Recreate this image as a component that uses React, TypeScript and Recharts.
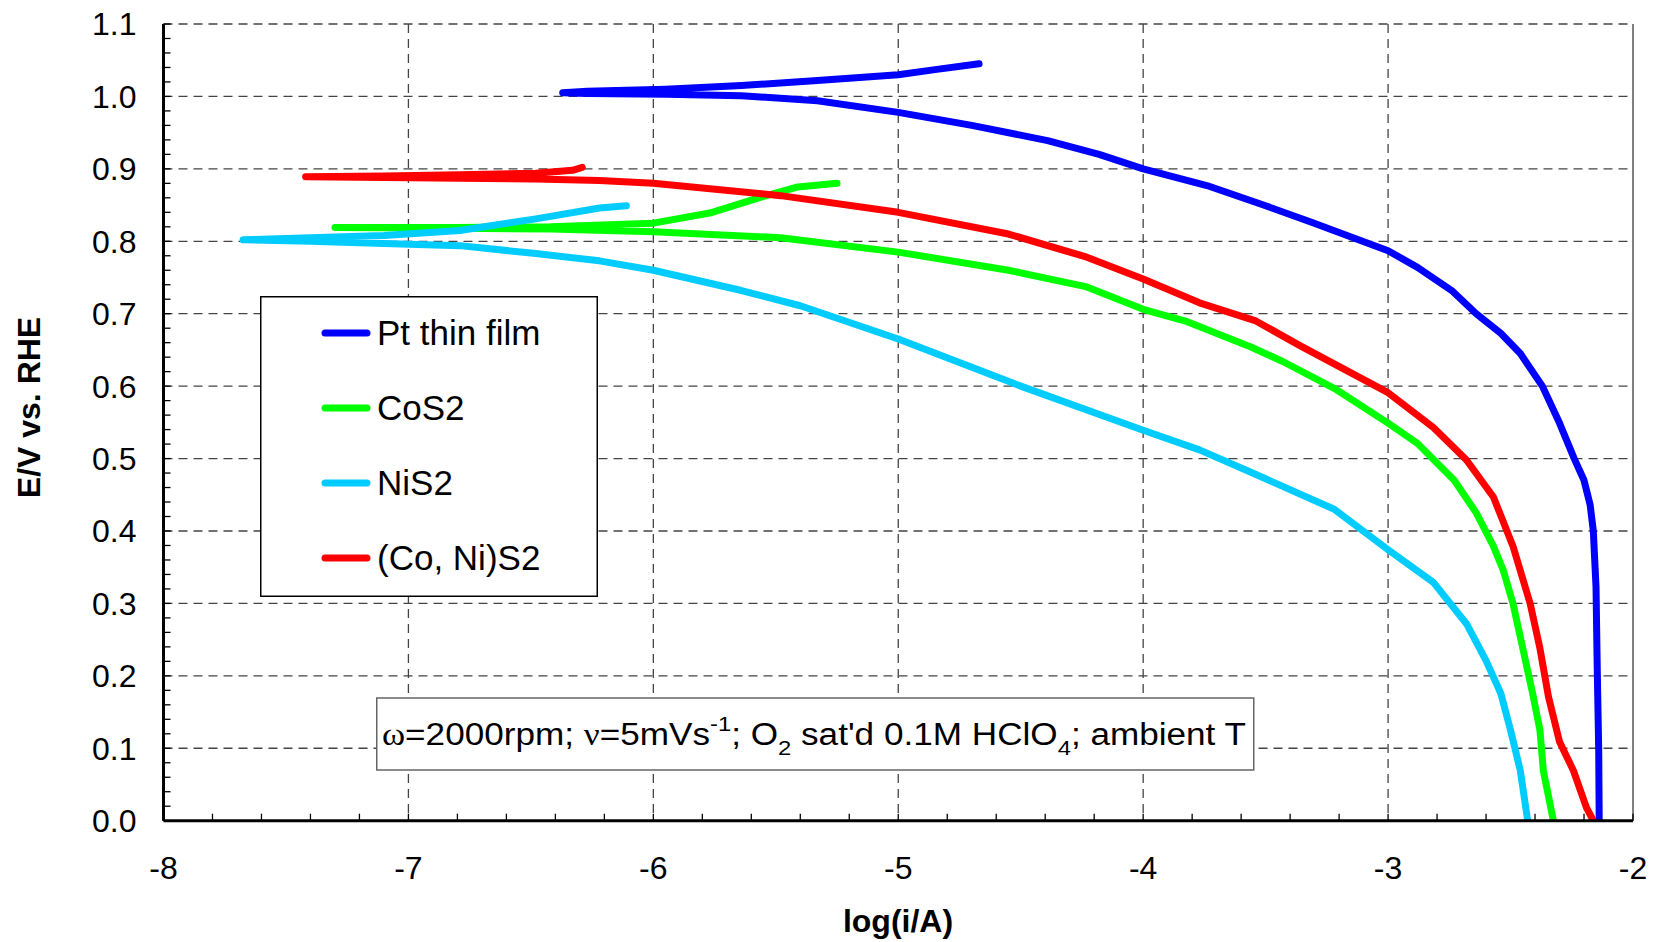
import React from 'react';
import { LineChart, Line, XAxis, YAxis, CartesianGrid, ReferenceLine } from 'recharts';

// ---- axis ticks ----
const X_MAJOR = [-8, -7, -6, -5, -4, -3, -2];
const X_MINOR = [-8, -7.8, -7.6, -7.4, -7.2, -7, -6.8, -6.6, -6.4, -6.2, -6, -5.8, -5.6, -5.4, -5.2, -5, -4.8, -4.6, -4.4, -4.2, -4, -3.8, -3.6, -3.4, -3.2, -3, -2.8, -2.6, -2.4, -2.2, -2];
const Y_MAJOR = [0, 0.1, 0.2, 0.3, 0.4, 0.5, 0.6, 0.7, 0.8, 0.9, 1.0, 1.1];
const Y_MINOR = Array.from({ length: 56 }, (_, i) => Math.round(i * 2) / 100);
const X_GRID = [-7, -6, -5, -4, -3];
const Y_GRID = [0.1, 0.2, 0.3, 0.4, 0.5, 0.6, 0.7, 0.8, 0.9, 1.0, 1.1];

// ---- series: log(i/A) and E/V vs RHE, in scan order ----
const ptLogI = [-4.67, -4.85, -5.0, -5.33, -5.64, -5.95, -6.27, -6.37, -6.27, -5.95, -5.64, -5.33, -5.0, -4.70, -4.39, -4.18, -4.0, -3.74, -3.50, -3.31, -3.0, -2.88, -2.74, -2.64, -2.54, -2.46, -2.37, -2.30, -2.24, -2.20, -2.175, -2.162, -2.151, -2.146, -2.140, -2.138];
const ptE = [1.045, 1.037, 1.030, 1.022, 1.015, 1.010, 1.007, 1.005, 1.004, 1.003, 1.001, 0.994, 0.978, 0.960, 0.939, 0.920, 0.900, 0.877, 0.849, 0.826, 0.787, 0.764, 0.732, 0.700, 0.673, 0.645, 0.600, 0.549, 0.500, 0.470, 0.436, 0.400, 0.323, 0.210, 0.097, 0.0];

const coLogI = [-5.25, -5.41, -5.56, -5.77, -6.0, -6.42, -6.8, -7.30, -6.8, -6.42, -6.0, -5.48, -5.0, -4.55, -4.23, -4.0, -3.82, -3.56, -3.43, -3.22, -3.0, -2.88, -2.73, -2.64, -2.57, -2.53, -2.49, -2.45, -2.41, -2.38, -2.366, -2.325];
const coE = [0.880, 0.875, 0.861, 0.839, 0.825, 0.820, 0.819, 0.819, 0.818, 0.817, 0.813, 0.805, 0.785, 0.760, 0.737, 0.706, 0.689, 0.654, 0.634, 0.597, 0.549, 0.521, 0.470, 0.425, 0.379, 0.346, 0.300, 0.238, 0.176, 0.125, 0.069, 0.0];

const niLogI = [-6.11, -6.22, -6.48, -6.79, -7.10, -7.40, -7.675, -7.40, -7.10, -6.79, -6.48, -6.22, -6.0, -5.64, -5.40, -5.0, -4.50, -4.0, -3.77, -3.56, -3.22, -3.0, -2.815, -2.68, -2.60, -2.54, -2.50, -2.46, -2.43];
const niE = [0.849, 0.846, 0.831, 0.815, 0.808, 0.805, 0.802, 0.800, 0.797, 0.794, 0.783, 0.773, 0.760, 0.732, 0.711, 0.665, 0.600, 0.539, 0.512, 0.481, 0.430, 0.374, 0.329, 0.272, 0.221, 0.176, 0.125, 0.069, 0.0];

const cnLogI = [-6.29, -6.33, -6.48, -6.79, -7.10, -7.42, -7.10, -6.79, -6.48, -6.22, -6.0, -5.48, -5.0, -4.55, -4.23, -4.0, -3.77, -3.54, -3.36, -3.0, -2.815, -2.68, -2.57, -2.49, -2.42, -2.38, -2.345, -2.30, -2.243, -2.19, -2.162];
const cnE = [0.902, 0.898, 0.894, 0.892, 0.890, 0.889, 0.888, 0.887, 0.886, 0.884, 0.880, 0.863, 0.840, 0.810, 0.778, 0.748, 0.715, 0.690, 0.656, 0.591, 0.543, 0.498, 0.447, 0.379, 0.300, 0.238, 0.171, 0.109, 0.069, 0.018, 0.0];

const SERIES_NAMES = ['Pt thin film', 'CoS2', 'NiS2', '(Co, Ni)S2'];
const SERIES_COLORS = ['#0000FF', '#00FF00', '#00CCFF', '#FF0000'];
const SERIES_X = [ptLogI, coLogI, niLogI, cnLogI];
const SERIES_Y = [ptE, coE, niE, cnE];

const toPoints = (xs: number[], ys: number[]) => xs.map((x, i) => ({ x, y: ys[i] }));

const FONT = '"Liberation Sans", Arial, sans-serif';
const SERIF = '"Liberation Serif", "Times New Roman", serif';

const isMajor = (v: number, step: number) => Math.abs(v / step - Math.round(v / step)) < 1e-6;

const XTick = (props: any) => {
  const { x, y, payload } = props;
  const v = payload.value as number;
  return (
    <g>
      <line x1={x} y1={y} x2={x} y2={y - 7} stroke="#000" strokeWidth={1.3} />
      {isMajor(v, 1) && (
        <text x={x} y={y + 58} textAnchor="middle" fontSize={32} fontFamily={FONT} fill="#000">
          {String(Math.round(v))}
        </text>
      )}
    </g>
  );
};

const YTick = (props: any) => {
  const { x, y, payload } = props;
  const v = payload.value as number;
  return (
    <g>
      <line x1={x} y1={y} x2={x + 7} y2={y} stroke="#000" strokeWidth={1.3} />
      {isMajor(v, 0.1) && (
        <text x={x - 27} y={y + 11.4} textAnchor="end" fontSize={32} fontFamily={FONT} fill="#000">
          {v.toFixed(1)}
        </text>
      )}
    </g>
  );
};

const LegendBox = () => (
  <g transform="translate(260, 296)">
    <rect x={0.75} y={0.75} width={336.5} height={299.5} fill="#fff" stroke="#000" strokeWidth={1.5} />
    {SERIES_NAMES.map((name, i) => {
      const cy = 37 + 75 * i;
      return (
        <g key={name}>
          <line x1={65} x2={107} y1={cy} y2={cy} stroke={SERIES_COLORS[i]} strokeWidth={7} strokeLinecap="round" />
          <text x={117} y={cy + 12.4} fontSize={35} fontFamily={FONT} fill="#000">
            {name}
          </text>
        </g>
      );
    })}
  </g>
);

const Annotation = () => (
  <g>
    <rect x={376.75} y={698} width={877} height={72} fill="#fff" stroke="#666" strokeWidth={1.5} />
    <text
      x={382}
      y={745}
      fontSize={31}
      fontFamily={FONT}
      fill="#000"
      textLength={864}
      lengthAdjust="spacingAndGlyphs"
    >
      <tspan fontFamily={SERIF}>ω</tspan>
      <tspan>=2000rpm; </tspan>
      <tspan fontFamily={SERIF}>ν</tspan>
      <tspan>=5mVs</tspan>
      <tspan fontSize={21} dy={-14}>-1</tspan>
      <tspan dy={14}>; O</tspan>
      <tspan fontSize={21} dy={10}>2</tspan>
      <tspan dy={-10}> sat'd 0.1M HClO</tspan>
      <tspan fontSize={21} dy={10}>4</tspan>
      <tspan dy={-10}>; ambient T</tspan>
    </text>
  </g>
);

export default function App() {
  return (
    <div style={{ position: 'absolute', left: 0, top: 0, width: 1654, height: 942, background: '#fff' }}>
      <LineChart width={1654} height={942} margin={{ top: 24, right: 21, bottom: 0, left: 0 }}>
        <CartesianGrid
          horizontalValues={Y_GRID}
          verticalValues={X_GRID}
          stroke="#444"
          strokeWidth={1.3}
          strokeDasharray="9 6"
        />
        <ReferenceLine x={-2} stroke="#555" strokeWidth={1.5} />
        <XAxis
          type="number"
          dataKey="x"
          domain={[-8, -2]}
          allowDataOverflow
          ticks={X_MINOR}
          interval={0}
          tickSize={0}
          tickMargin={0}
          height={121.3}
          axisLine={{ stroke: '#000', strokeWidth: 3 }}
          tickLine={false}
          tick={<XTick />}
        />
        <YAxis
          type="number"
          dataKey="y"
          domain={[0, 1.1]}
          allowDataOverflow
          ticks={Y_MINOR}
          interval={0}
          tickSize={0}
          tickMargin={0}
          width={163.5}
          axisLine={{ stroke: '#000', strokeWidth: 3 }}
          tickLine={false}
          tick={<YTick />}
        />
        {SERIES_NAMES.map((name, i) => (
          <Line
            key={name}
            name={name}
            data={toPoints(SERIES_X[i], SERIES_Y[i])}
            dataKey="y"
            type="linear"
            stroke={SERIES_COLORS[i]}
            strokeWidth={7}
            strokeLinecap="round"
            strokeLinejoin="round"
            dot={false}
            activeDot={false}
            isAnimationActive={false}
          />
        ))}
        <LegendBox />
        <Annotation />
        <text x={898} y={932} textAnchor="middle" fontSize={32} fontWeight="bold" fontFamily={FONT} fill="#000">
          log(i/A)
        </text>
        <text
          x={40}
          y={407.5}
          transform="rotate(-90, 40, 407.5)"
          textAnchor="middle"
          fontSize={32}
          fontWeight="bold"
          fontFamily={FONT}
          fill="#000"
        >
          E/V vs. RHE
        </text>
      </LineChart>
    </div>
  );
}
